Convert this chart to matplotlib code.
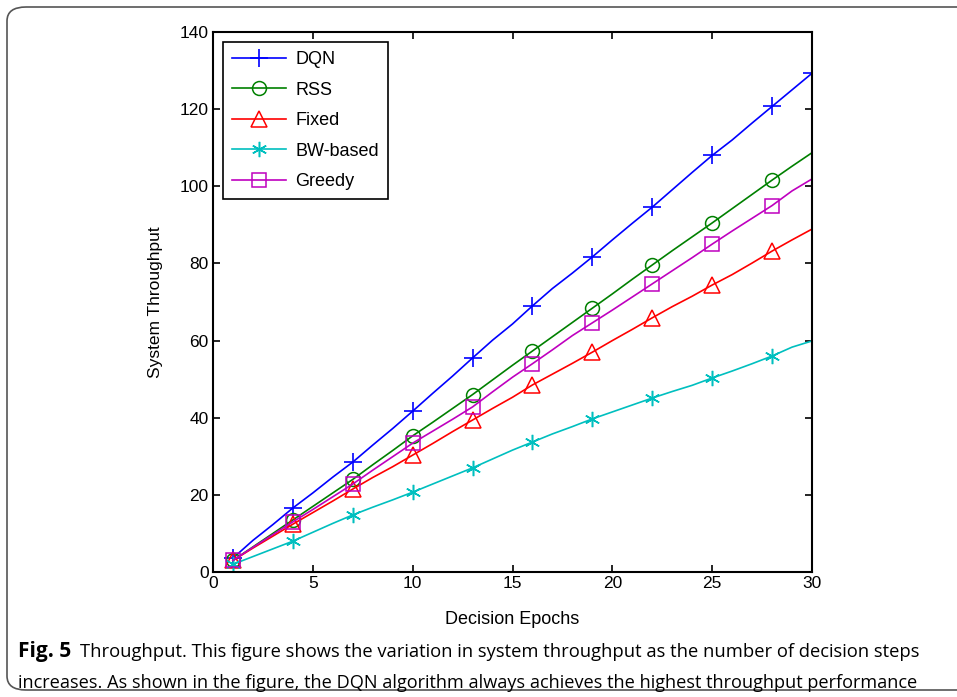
import matplotlib
matplotlib.use('Agg')
import matplotlib.pyplot as plt
from matplotlib.patches import FancyBboxPatch

# Data
epochs = list(range(1, 31))
dqn = [3.6, 8.2, 12.3, 16.6, 20.5, 24.6, 28.5, 32.9, 37.2, 41.7, 46.3, 50.8, 55.5, 60.1, 64.3,
       69.0, 73.5, 77.5, 81.7, 86.1, 90.4, 94.6, 99.1, 103.6, 108.0, 112.0, 116.4, 120.7, 125.0, 129.3]
rss = [3.0, 6.5, 10.0, 13.5, 17.0, 20.5, 24.0, 27.8, 31.5, 35.3, 38.8, 42.4, 46.0, 49.8, 53.6,
       57.3, 61.0, 64.7, 68.4, 72.1, 75.9, 79.6, 83.3, 86.9, 90.5, 94.2, 97.9, 101.6, 105.2, 108.7]
fixed = [3.0, 6.2, 9.3, 12.4, 15.4, 18.4, 21.5, 24.5, 27.3, 30.3, 33.3, 36.4, 39.4, 42.4, 45.3,
         48.5, 51.3, 54.1, 57.0, 60.0, 62.9, 65.9, 68.8, 71.5, 74.4, 77.1, 80.1, 83.2, 86.1, 88.9]
bw_based = [2.0, 4.0, 6.0, 8.0, 10.3, 12.6, 14.8, 16.8, 18.7, 20.7, 22.8, 24.9, 27.0, 29.3, 31.6,
            33.7, 35.8, 37.7, 39.7, 41.5, 43.3, 45.1, 46.8, 48.4, 50.3, 52.1, 54.0, 56.0, 58.3, 59.9]
greedy = [3.0, 6.4, 9.7, 13.0, 16.2, 19.5, 22.8, 26.4, 29.9, 33.4, 36.5, 39.6, 42.8, 46.7, 50.5,
          54.0, 57.6, 61.3, 64.6, 67.9, 71.3, 74.7, 78.1, 81.5, 85.0, 88.4, 91.7, 95.0, 98.8, 101.9]

caption1 = "Throughput. This figure shows the variation in system throughput as the number of decision steps"
caption2 = "increases. As shown in the figure, the DQN algorithm always achieves the highest throughput performance"

plt.rcParams['font.family'] = ['Liberation Sans', 'DejaVu Sans']

W, H = 957, 697
fig = plt.figure(figsize=(W / 100, H / 100), dpi=100)
ax = fig.add_axes([213 / W, 1 - 572 / H, 599 / W, 540 / H])

marks = list(range(0, 30, 3))
series = [
    ('DQN', dqn, (0, 0, 1), '+', dict(markersize=13, markeredgewidth=1.2), marks + [29]),
    ('RSS', rss, (0, 0.5, 0), 'o', dict(markersize=10, markerfacecolor='none', markeredgewidth=1.1), marks),
    ('Fixed', fixed, (1, 0, 0), '^', dict(markersize=11, markerfacecolor='none', markeredgewidth=1.1), marks),
    ('BW-based', bw_based, (0, 0.75, 0.75), (6, 2, 0), dict(markersize=11, markeredgewidth=1.1), marks),
    ('Greedy', greedy, (0.75, 0, 0.75), 's', dict(markersize=10, markerfacecolor='none', markeredgewidth=1.1), marks),
]
for name, vals, col, mk, kw, every in series:
    ax.plot(epochs, vals, color=col, marker=mk, markevery=every, linewidth=1.2,
            label=name, markeredgecolor=col, **kw)

ax.set_xlim(0, 30)
ax.set_ylim(0, 140)
ax.set_xticks(range(0, 31, 5))
ax.set_yticks(range(0, 141, 20))
ax.tick_params(direction='in', top=True, right=True, length=5, width=1.2,
               labelsize=12.5, pad=3)
for s in ax.spines.values():
    s.set_linewidth(1.5)
ax.set_xlabel('Decision Epochs', fontsize=13, labelpad=14)
ax.set_ylabel('System Throughput', fontsize=12.5, labelpad=12)

leg = ax.legend(loc='upper left', bbox_to_anchor=(10 / 599, 1 - 10 / 540), fontsize=13,
                frameon=True, fancybox=False, edgecolor='black', framealpha=1,
                handlelength=3.0, labelspacing=0.75, borderpad=0.5, handletextpad=0.5,
                borderaxespad=0)
leg.get_frame().set_linewidth(1.2)

# figure frame with rounded corner
box = FancyBboxPatch((7 / W, 7 / H), 1.2, 1 - 14 / H, boxstyle='round,pad=0,rounding_size=0.02',
                     transform=fig.transFigure, facecolor='none', edgecolor='#555555',
                     linewidth=1.2, clip_on=False)
fig.patches.append(box)

# caption, each line sized to fit its width in the reference
fig.canvas.draw()
r = fig.canvas.get_renderer()
cfont = ['Open Sans', 'DejaVu Sans']
t_bold = fig.text(18 / W, 1 - 652 / H, 'Fig. 5', fontsize=15, fontweight='bold',
                  family=cfont, va='center', ha='left')
bb = t_bold.get_window_extent(r)
x1 = bb.x1 + 9
t1 = fig.text(x1 / W, 1 - 652 / H, caption1, fontsize=12, family=cfont, va='center', ha='left')
t2 = fig.text(18 / W, 1 - 683 / H, caption2, fontsize=12, family=cfont, va='center', ha='left')
w1 = t1.get_window_extent(r).x1 - x1
w2 = t2.get_window_extent(r).x1 - 18
t1.set_fontsize(12 * (916 - x1) / w1)
t2.set_fontsize(12 * (916 - 18) / w2)

fig.savefig('out.png', dpi=100)
